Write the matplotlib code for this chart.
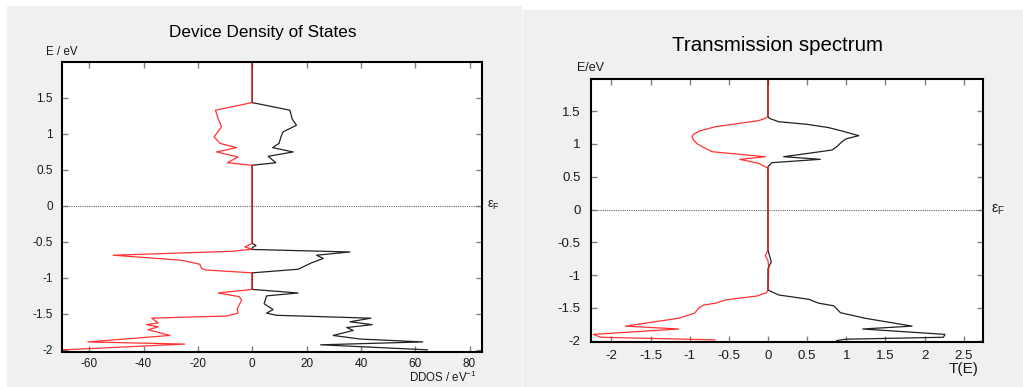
import numpy as np
import matplotlib.pyplot as plt
from matplotlib.patches import Rectangle

plt.rcParams['font.family'] = ['Liberation Sans', 'DejaVu Sans']
plt.rcParams['axes.unicode_minus'] = False

# device DOS, spin up (black, positive) and spin down (red, negative)
e_up = [2.0, 1.436, 1.33, 1.21, 1.12, 1.03, 0.96, 0.87, 0.81, 0.75, 0.69, 0.60, 0.565,
        -0.52, -0.55, -0.58, -0.605, -0.64, -0.685, -0.73, -0.79, -0.88, -0.93,
        -1.16, -1.21, -1.25, -1.36, -1.44, -1.49, -1.52, -1.56, -1.61, -1.65, -1.69,
        -1.73, -1.80, -1.85, -1.89, -1.93, -2.0]
dos_up = [0, 0, 13.9, 14.7, 16.3, 11.4, 10.6, 9.9, 7.5, 15.1, 5.9, 8.7, 0,
          0, 1.4, 0, 0, 36.0, 23.7, 26.2, 21.9, 16.9, 0,
          0, 16.9, 5.3, 4.4, 7.7, 5.3, 9.0, 43.7, 36.0, 44.2, 34.8,
          37.2, 29.8, 39.7, 62.8, 25.2, 64.5]

e_dn = [2.0, 1.436, 1.33, 1.21, 1.10, 0.96, 0.87, 0.81, 0.75, 0.68, 0.60, 0.565,
        -0.52, -0.57, -0.60, -0.63, -0.685, -0.755, -0.81, -0.87, -0.89, -0.93,
        -1.16, -1.21, -1.26, -1.31, -1.43, -1.49, -1.53, -1.56, -1.625, -1.65, -1.68,
        -1.72, -1.80, -1.89, -1.92, -2.0]
dos_dn = [0, 0, -13.5, -12.5, -11.3, -14.0, -11.9, -5.7, -13.1, -5.2, -9.1, 0,
          0, -2.7, 0, -7.0, -51.2, -26.0, -19.3, -18.6, -17.2, 0,
          0, -12.5, -4.8, -3.9, -5.5, -5.2, -9.4, -37.0, -34.6, -38.9, -34.6,
          -38.3, -30.3, -60.4, -24.8, -69.6]

# transmission, spin up (black) and spin down (red, plotted negative)
et_up = [2.0, 1.417, 1.39, 1.34, 1.30, 1.25, 1.19, 1.127, 1.08, 1.035, 0.96, 0.908,
         0.858, 0.806, 0.766, 0.715, 0.653, -0.62, -0.80, -0.90, -1.229, -1.305,
         -1.37, -1.43, -1.47, -1.575, -1.66, -1.78, -1.824, -1.906, -1.95, -1.98, -2.0]
t_up = [0, 0, 0.02, 0.137, 0.5, 0.775, 0.97, 1.16, 1.0, 0.945, 0.88, 0.817,
        0.52, 0.2, 0.668, 0.05, 0, 0, 0.042, 0, 0, 0.137,
        0.52, 0.647, 0.84, 0.925, 1.24, 1.84, 1.21, 2.26, 2.24, 0.99, 0.88]

et_dn = [2.0, 1.417, 1.39, 1.356, 1.30, 1.264, 1.20, 1.15, 1.11, 1.06, 1.0, 0.96,
         0.935, 0.882, 0.806, 0.766, 0.705, 0.63, -0.62, -0.705, -0.78, -0.90,
         -1.229, -1.27, -1.32, -1.38, -1.43, -1.458, -1.50, -1.58, -1.66, -1.78,
         -1.824, -1.906, -1.95, -1.99]
t_dn = [0, 0, -0.04, -0.119, -0.45, -0.67, -0.87, -0.95, -0.97, -0.95, -0.90, -0.84,
        -0.80, -0.715, -0.034, -0.36, -0.119, 0, 0, -0.034, 0, 0.01,
        0, -0.02, -0.14, -0.545, -0.67, -0.82, -0.88, -0.936, -1.14, -1.82,
        -1.14, -2.23, -2.14, -0.68]

dos_ticks = [-60, -40, -20, 0, 20, 40, 60, 80]
t_ticks = [-2, -1.5, -1, -0.5, 0, 0.5, 1, 1.5, 2, 2.5]
t_labels = ['-2', '-1.5', '-1', '-0.5', '0', '0.5', '1', '1.5', '2', '2.5']
e_ticks = [-2, -1.5, -1, -0.5, 0, 0.5, 1, 1.5]
e_labels = ['-2', '-1.5', '-1', '-0.5', '0', '0.5', '1', '1.5']

W, H = 1023, 387
fig = plt.figure(figsize=(W / 100, H / 100), dpi=100)
fig.patches.append(Rectangle((7 / W, 0), 514 / W, 381 / H, transform=fig.transFigure,
                             color='#f0f0f0', zorder=-10))
fig.patches.append(Rectangle((523 / W, 0), 500 / W, 377 / H, transform=fig.transFigure,
                             color='#f0f0f0', zorder=-10))


def style(ax, fs, xpad, ypad):
    for s in ax.spines.values():
        s.set_linewidth(1.5)
    ax.tick_params(direction='in', length=4, width=1, color='#808080',
                   top=True, right=True, labelsize=fs, labelcolor='#1a1a1a')
    ax.tick_params(axis='x', pad=xpad)
    ax.tick_params(axis='y', pad=ypad)


ax1 = fig.add_axes([62 / W, 1 - 352 / H, 420 / W, 290 / H])
ax1.axhline(0, color='#666666', ls=(0, (1, 1)), lw=0.8)
ax1.plot(dos_up, e_up, color='#222222', lw=0.9)
ax1.plot(dos_dn, e_dn, color='red', lw=0.9, alpha=0.8)
ax1.set_xlim(-70, 84.6)
ax1.set_ylim(-2.03, 2.0)
ax1.set_xticks(dos_ticks)
ax1.set_yticks(e_ticks)
ax1.set_yticklabels(e_labels)
style(ax1, 8.5, 4.5, 6.5)
ax1.text(0.479, 1.1, 'Device Density of States', transform=ax1.transAxes,
         ha='center', va='center', fontsize=12.3)
ax1.text(0.0, 1.034, 'E / eV', transform=ax1.transAxes, ha='center', va='center',
         fontsize=8.3, color='#1a1a1a')
ax1.text(0.907, -0.088, r'DDOS / eV$^{\mathregular{-1}}$', transform=ax1.transAxes,
         ha='center', va='center', fontsize=8.3, color='#1a1a1a')
ax1.text(1.012, 0, r'ε$_{\mathregular{F}}$', transform=ax1.get_yaxis_transform(),
         ha='left', va='center', fontsize=9, color='#1a1a1a')

ax2 = fig.add_axes([591 / W, 1 - 342.3 / H, 391.7 / W, 263.3 / H])
ax2.axhline(0, color='#666666', ls=(0, (1, 1)), lw=0.8)
ax2.plot(t_up, et_up, color='#222222', lw=0.9)
ax2.plot(t_dn, et_dn, color='red', lw=0.9, alpha=0.8)
ax2.set_xlim(-2.26, 2.742)
ax2.set_ylim(-2.027, 1.992)
ax2.set_xticks(t_ticks)
ax2.set_xticklabels(t_labels)
ax2.set_yticks(e_ticks)
ax2.set_yticklabels(e_labels)
style(ax2, 9.5, 5.5, 7.5)
ax2.text(0.475, 1.129, 'Transmission spectrum', transform=ax2.transAxes,
         ha='center', va='center', fontsize=14.8)
ax2.text(0.0, 1.042, 'E/eV', transform=ax2.transAxes, ha='center', va='center',
         fontsize=9, color='#1a1a1a')
ax2.text(0.9515, -0.1, 'T(E)', transform=ax2.transAxes, ha='center', va='center',
         fontsize=11, color='#1a1a1a')
ax2.text(1.021, 0, r'ε$_{\mathregular{F}}$', transform=ax2.get_yaxis_transform(),
         ha='left', va='center', fontsize=10, color='#1a1a1a')

fig.savefig('out.png', dpi=100, facecolor='white')
